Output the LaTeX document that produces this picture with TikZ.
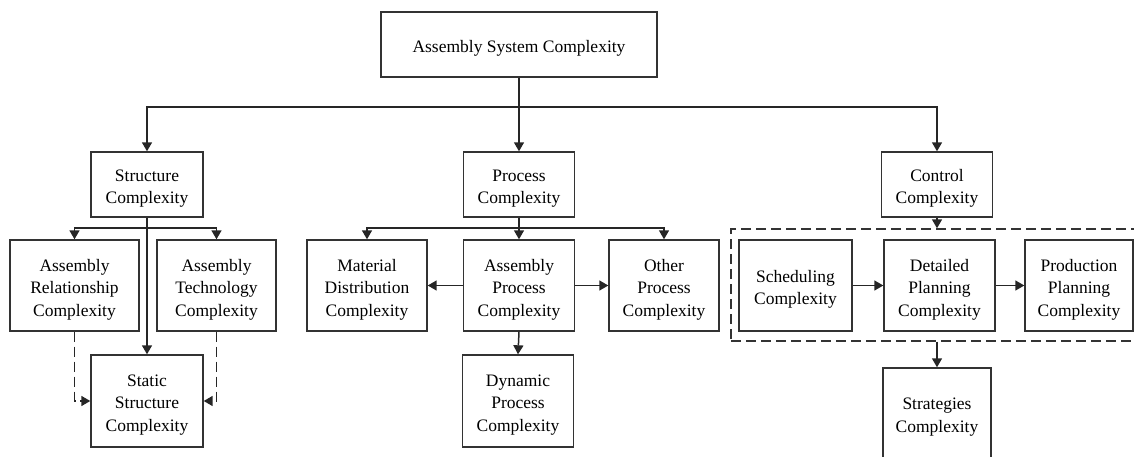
\documentclass[tikz,border=0pt]{standalone}
\usepackage{fontspec}
\setmainfont{Liberation Serif}
\usetikzlibrary{arrows.meta}
\tikzset{
  frame/.style={draw=black!80, line width=1.4pt, fill=white, inner sep=0pt},
  txt/.style={inner sep=0pt, align=center, text=black,
    font=\fontsize{17.5}{22.5}\selectfont},
  conn/.style={draw=black!85, line width=1.5pt},
  arr/.style={conn, -{Triangle[length=9pt,width=10pt]}},
  dashline/.style={dash pattern=on 10pt off 5pt}
}
% box with its caption set slightly below the geometric centre
\newcommand\cbox[5]{%
  \node[frame, minimum width=#3, minimum height=#4] (#1) at (#2) {};
  \node[txt] (#1-t) at ([yshift=-4pt]#1.center) {#5};}
\begin{document}
\begin{tikzpicture}[x=1pt,y=-1pt]
\useasboundingbox (0,0) rectangle (1134,457);
\clip (0,0) rectangle (1134,457);

% dashed group frame of the control branch
\node[frame, fill=none, dashline, minimum width=419pt, minimum height=112pt] (grp) at (940.5,285) {};

% top level
\cbox{top}{519,44.5}{276pt}{65pt}{Assembly System Complexity}

% second level
\cbox{struct}{147,184.5}{112pt}{65pt}{Structure\\Complexity}
\cbox{proc}{519,184.5}{111pt}{65pt}{Process\\Complexity}
\cbox{ctrl}{937,184.5}{111pt}{65pt}{Control\\Complexity}

% structure branch
\cbox{arc}{74.5,285.5}{129pt}{91pt}{Assembly\\Relationship\\Complexity}
\cbox{atc}{216.5,285.5}{119pt}{91pt}{Assembly\\Technology\\Complexity}
\cbox{stat}{147,401}{112pt}{92pt}{Static\\Structure\\Complexity}

% process branch
\cbox{mat}{367,285.5}{120pt}{91pt}{Material\\Distribution\\Complexity}
\cbox{ap}{519,285.5}{111pt}{91pt}{Assembly\\Process\\Complexity}
\cbox{oth}{664,285.5}{110pt}{91pt}{Other\\Process\\Complexity}
\cbox{dyn}{518,401}{111pt}{92pt}{Dynamic\\Process\\Complexity}

% control branch
\cbox{sched}{795.5,285.5}{113pt}{91pt}{Scheduling\\Complexity}
\cbox{det}{939.5,285.5}{111pt}{91pt}{Detailed\\Planning\\Complexity}
\cbox{prod}{1079,285.5}{108pt}{91pt}{Production\\Planning\\Complexity}
\node[frame, minimum width=108pt, minimum height=102pt] (strat) at (937,419) {};
\node[txt] (strat-t) at (937,417) {Strategies\\Complexity};

% branching points
\coordinate (tb) at (519,107);
\coordinate (sb) at (147,228);
\coordinate (pb) at (519,228);

% connectors from the top box
\draw[arr] (top.south) -- (proc.north);
\draw[arr] (tb) -| (struct.north);
\draw[arr] (tb) -| (ctrl.north);

% structure connectors
\draw[arr] (sb) -| (arc.north);
\draw[arr] (sb) -| (atc.north);
\draw[arr] (struct.south) -- (stat.north);
\draw[arr, dashline] (arc.south) |- (stat.west);
\draw[arr, dashline] (atc.south) |- (stat.east);

% process connectors
\draw[arr] (pb) -| (mat.north);
\draw[arr] (pb) -| (oth.north);
\draw[arr] (proc.south) -- (ap.north);
\draw[arr] (ap.west) -- (mat.east);
\draw[arr] (ap.east) -- (oth.west);
\draw[arr] (ap.south) -- (dyn.north);

% control connectors
\draw[arr] (ctrl.south) -- (ctrl.south |- grp.north);
\draw[arr] (sched.east) -- (det.west);
\draw[arr] (det.east) -- (prod.west);
\draw[arr] (strat.north |- grp.south) -- (strat.north);
\end{tikzpicture}
\end{document}
